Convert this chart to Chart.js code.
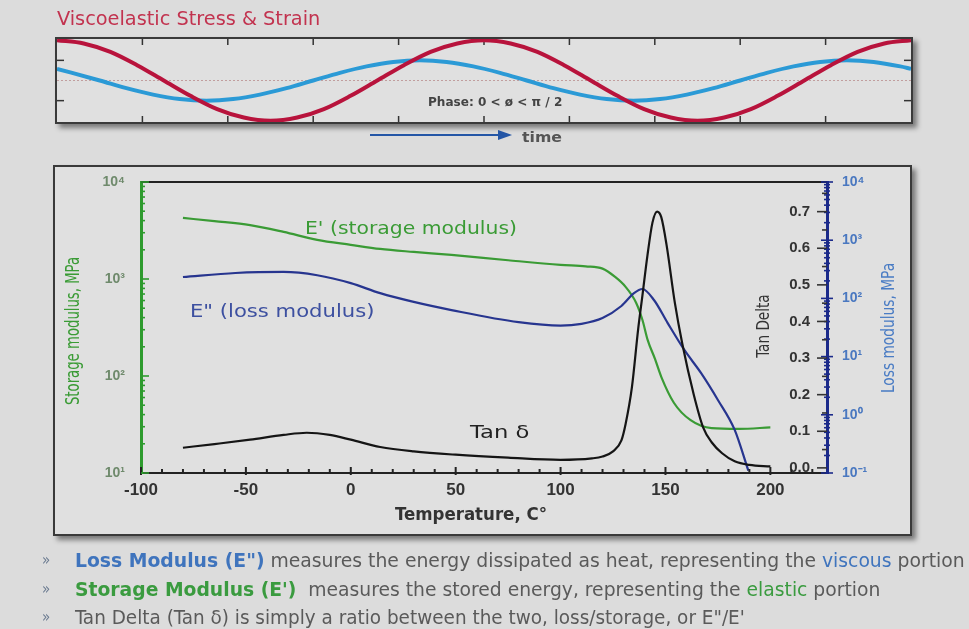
<!DOCTYPE html>
<html>
<head>
<meta charset="utf-8">
<script src="https://cdn.jsdelivr.net/npm/chart.js@4.4.1/dist/chart.umd.min.js"></script>
<style>
html, body { margin: 0; padding: 0; }
body {
  width: 969px; height: 629px; position: relative; overflow: hidden;
  background: #dcdcdc;
  font-family: 'Liberation Sans Narrow', 'DejaVu Sans Condensed', 'Liberation Sans', sans-serif;
}
.box {
  position: absolute; box-sizing: border-box;
  border: 2px solid #3a3a3a; background: #e0e0e0;
  box-shadow: 4px 4px 5px rgba(0, 0, 0, 0.45);
}
canvas { position: absolute; left: 0; top: 0; }
.t { position: absolute; white-space: nowrap; line-height: 1; }
</style>
</head>
<body>
<div class="box" style="left:55px;top:37px;width:858px;height:87px"></div>
<div class="box" style="left:53px;top:165px;width:859px;height:371px"></div>
<canvas id="wave" width="969" height="629"></canvas>
<canvas id="dma" width="969" height="629"></canvas>

<svg style="position:absolute;left:0;top:0" width="969" height="629">
  <line x1="370" y1="135" x2="500" y2="135" stroke="#2456a6" stroke-width="2"/>
  <polygon points="498,130 512,135 498,140" fill="#2456a6"/>
</svg>

<div class="t" data-w="263" style="left:57px;top:18px;font-size:20px;color:#c2334f">Viscoelastic Stress &amp; Strain</div>
<div class="t" data-w="134" style="left:428px;top:101px;font-size:13px;font-weight:bold;color:#444">Phase: 0 &lt; ø &lt; π / 2</div>
<div class="t" data-w="40" style="left:522px;top:137px;font-size:14px;font-weight:bold;color:#555">time</div>

<div class="t" data-w="212" style="left:305px;top:228px;font-size:17px;font-family:'DejaVu Sans',sans-serif;color:#3a9b35">E' (storage modulus)</div>
<div class="t" data-w="184" style="left:190px;top:311px;font-size:17px;font-family:'DejaVu Sans',sans-serif;color:#3d50a0">E" (loss modulus)</div>
<div class="t" data-w="60" style="left:470px;top:432px;font-size:17px;font-family:'DejaVu Sans',sans-serif;color:#222">Tan δ</div>

<div class="t" data-w="148" data-r="1" style="left:72px;top:331px;font-size:19px;color:#3a9b35">Storage modulus, MPa</div>
<div class="t" data-w="63" data-r="1" style="left:763px;top:326px;font-size:18px;color:#333">Tan Delta</div>
<div class="t" data-w="130" data-r="1" style="left:888px;top:328px;font-size:18px;color:#4a7cc4">Loss modulus, MPa</div>
<div class="t" data-w="152" style="left:395px;top:514px;font-size:18px;font-weight:bold;color:#333">Temperature, C°</div>

<div class="t" data-w="8" style="left:42px;top:560px;font-size:15px;color:#6a7a90">»</div>
<div class="t" data-w="8" style="left:42px;top:589px;font-size:15px;color:#6a7a90">»</div>
<div class="t" data-w="8" style="left:42px;top:617px;font-size:15px;color:#6a7a90">»</div>
<div class="t" data-w="890" style="left:75px;top:560px;font-size:19px;color:#5a5a5a"><b style="color:#3f74bd">Loss Modulus (E")</b> measures the energy dissipated as heat, representing the <span style="color:#3f74bd">viscous</span> portion</div>
<div class="t" data-w="805" style="left:75px;top:589px;font-size:19px;color:#5a5a5a"><b style="color:#3a9b3f">Storage Modulus (E')</b>&nbsp; measures the stored energy, representing the <span style="color:#3a9b3f">elastic</span> portion</div>
<div class="t" data-w="670" style="left:75px;top:617px;font-size:19px;color:#5a5a5a">Tan Delta (Tan δ) is simply a ratio between the two, loss/storage, or E"/E'</div>

<script>
// ---- top panel: stress / strain vs time ----
const stressTime = [0, 0.3125, 0.625, 0.9375, 1.25, 1.5625, 1.875, 2.1875, 2.5, 2.8125, 3.125, 3.4375, 3.75, 4.0625, 4.375, 4.6875,
  5, 5.3125, 5.625, 5.9375, 6.25, 6.5625, 6.875, 7.1875, 7.5, 7.8125, 8.125, 8.4375, 8.75, 9.0625, 9.375, 9.6875, 10];
const stressVals = [1, 0.92, 0.71, 0.38, 0, -0.38, -0.71, -0.92, -1, -0.92, -0.71, -0.38, 0, 0.38, 0.71, 0.92,
  1, 0.92, 0.71, 0.38, 0, -0.38, -0.71, -0.92, -1, -0.92, -0.71, -0.38, 0, 0.38, 0.71, 0.92, 1];
const strainTime = [0, 0.5, 0.8125, 1.125, 1.4375, 1.75, 2.0625, 2.375, 2.6875, 3, 3.3125, 3.625, 3.9375, 4.25, 4.5625, 4.875, 5.1875,
  5.5, 5.8125, 6.125, 6.4375, 6.75, 7.0625, 7.375, 7.6875, 8, 8.3125, 8.625, 8.9375, 9.25, 9.5625, 9.875, 10];
const strainVals = [0.29, 0, -0.19, -0.35, -0.46, -0.5, -0.46, -0.35, -0.19, 0, 0.19, 0.35, 0.46, 0.5, 0.46, 0.35, 0.19,
  0, -0.19, -0.35, -0.46, -0.5, -0.46, -0.35, -0.19, 0, 0.19, 0.35, 0.46, 0.5, 0.46, 0.35, 0.29];
const waveTicksX = [1, 2, 3, 4, 5, 6, 7, 8, 9];
const waveTicksY = [-0.5, 0.5];

// ---- main panel: DMA temperature sweep ----
const storageTemp = [-80, -65, -48, -32, -16, 0, 14, 30, 48, 75, 100, 112, 120, 126, 131, 136, 139, 141.5, 145, 148, 154, 162, 172, 185, 200];
const storageMod = [4260, 3950, 3600, 3060, 2530, 2250, 2040, 1900, 1770, 1560, 1400, 1350, 1280, 1050, 830, 570, 380, 236, 150, 98, 53, 35, 29, 28.5, 29.5];

const lossTemp = [-80, -55, -32, -16, 0, 14, 30, 48, 80, 100, 110, 120, 129, 135, 139, 144.6, 151, 159, 167, 175, 183, 189.5];
const lossMod = [233, 273, 285, 250, 183, 123, 87, 63, 39, 34, 36.5, 46, 74, 123, 145, 93, 38, 13, 5.2, 1.8, 0.55, 0.11];

const tanTemp = [-80, -65, -48, -32, -21, -10, 0, 14, 30, 50, 75, 100, 115, 120, 125, 129, 131, 134, 137, 139, 141.4, 143.8, 146, 148, 150.5, 154.5, 158, 163.5, 168, 172, 177, 183, 190, 200];
const tanDelta = [0.055, 0.065, 0.077, 0.09, 0.096, 0.09, 0.077, 0.057, 0.045, 0.036, 0.028, 0.022, 0.026, 0.031, 0.045, 0.075, 0.12, 0.22, 0.38, 0.47, 0.58, 0.67, 0.70, 0.685, 0.61, 0.45, 0.34, 0.2, 0.11, 0.07, 0.04, 0.018, 0.008, 0.004];

const tempTicks = [-100, -50, 0, 50, 100, 150, 200];
const storageTicks = [10, 100, 1000, 10000];
const storageTickLabels = ['10¹', '10²', '10³', '10⁴'];
const lossTicks = [0.1, 1, 10, 100, 1000, 10000];
const lossTickLabels = ['10⁻¹', '10⁰', '10¹', '10²', '10³', '10⁴'];
const tanTicks = [0, 0.1, 0.2, 0.3, 0.4, 0.5, 0.6, 0.7];

Chart.defaults.font.family = "'Liberation Sans', Arial, sans-serif";

function pts(xs, ys) {
  return xs.map((x, i) => ({ x: x, y: ys[i] }));
}

function seg(ctx, x1, y1, x2, y2) {
  ctx.beginPath();
  ctx.moveTo(x1, y1);
  ctx.lineTo(x2, y2);
  ctx.stroke();
}

const waveFrame = {
  id: 'waveFrame',
  beforeDatasetsDraw(chart) {
    const { ctx, chartArea: a, scales } = chart;
    ctx.save();
    ctx.strokeStyle = 'rgba(180,130,130,0.7)';
    ctx.lineWidth = 1;
    ctx.setLineDash([2, 2]);
    const y0 = scales.y.getPixelForValue(0);
    seg(ctx, a.left, y0, a.right, y0);
    ctx.setLineDash([]);
    ctx.strokeStyle = '#333';
    ctx.lineWidth = 1.5;
    waveTicksX.forEach(v => {
      const px = scales.x.getPixelForValue(v);
      seg(ctx, px, a.top, px, a.top + 6);
      seg(ctx, px, a.bottom, px, a.bottom - 6);
    });
    waveTicksY.forEach(v => {
      const py = scales.y.getPixelForValue(v);
      seg(ctx, a.left, py, a.left + 7, py);
      seg(ctx, a.right, py, a.right - 7, py);
    });
    ctx.restore();
  }
};

new Chart(document.getElementById('wave'), {
  type: 'line',
  data: {
    datasets: [
      { data: pts(stressTime, stressVals), borderColor: '#b8133c', borderWidth: 4, pointRadius: 0, cubicInterpolationMode: 'monotone' },
      { data: pts(strainTime, strainVals), borderColor: '#2b9ad6', borderWidth: 4, pointRadius: 0, cubicInterpolationMode: 'monotone' }
    ]
  },
  options: {
    responsive: false,
    animation: false,
    devicePixelRatio: 1,
    layout: { padding: { left: 57, right: 58, top: 39, bottom: 507 } },
    scales: {
      x: { type: 'linear', min: 0, max: 10, display: false },
      y: { type: 'linear', min: -1.03, max: 1.03, display: false }
    },
    plugins: { legend: { display: false }, tooltip: { enabled: false } }
  },
  plugins: [waveFrame]
});

// tick marks drawn inwards on every axis
const axisMarks = {
  id: 'axisMarks',
  afterDraw(chart) {
    const { ctx, chartArea: a, scales: s } = chart;
    ctx.save();
    ctx.strokeStyle = '#222';
    ctx.lineWidth = 2;
    seg(ctx, a.left, a.top, a.right, a.top);

    // temperature axis: major every 50, minor every 10
    for (let i = 0; i < tempTicks.length; i++) {
      const px = s.x.getPixelForValue(tempTicks[i]);
      seg(ctx, px, a.bottom - 6, px, a.bottom + 2);
      for (let k = 1; k < 5; k++) {
        const v = tempTicks[i] + k * 10;
        if (v > 222) break;
        const mx = s.x.getPixelForValue(v);
        seg(ctx, mx, a.bottom - 4, mx, a.bottom);
      }
    }

    // storage axis (left, green)
    ctx.strokeStyle = '#2e9b2e';
    ctx.lineWidth = 1.6;
    storageTicks.forEach((d, i) => {
      const py = s.yS.getPixelForValue(d);
      seg(ctx, a.left, py, a.left + 8, py);
      if (i < storageTicks.length - 1) {
        for (let k = 2; k < 10; k++) {
          const my = s.yS.getPixelForValue(k * d);
          seg(ctx, a.left, my, a.left + 4, my);
        }
      }
    });

    // loss axis (right, navy)
    ctx.strokeStyle = '#1b2a8a';
    lossTicks.forEach((d, i) => {
      const py = s.yL.getPixelForValue(d);
      seg(ctx, a.right - 6, py, a.right + 6, py);
      if (i < lossTicks.length - 1) {
        for (let k = 2; k < 10; k++) {
          const my = s.yL.getPixelForValue(k * d);
          seg(ctx, a.right - 3, my, a.right + 3, my);
        }
      }
    });

    // tan delta ticks, inside
    ctx.strokeStyle = '#333';
    ctx.lineWidth = 1.6;
    tanTicks.forEach(v => {
      const py = s.yT.getPixelForValue(v);
      seg(ctx, a.right - 10, py, a.right, py);
      const my = s.yT.getPixelForValue(v + 0.05);
      seg(ctx, a.right - 5, my, a.right, my);
    });
    ctx.restore();
  }
};

new Chart(document.getElementById('dma'), {
  type: 'line',
  data: {
    datasets: [
      { label: 'Tan delta', data: pts(tanTemp, tanDelta), yAxisID: 'yT', borderColor: '#151515', borderWidth: 2.2, pointRadius: 0, cubicInterpolationMode: 'monotone' },
      { label: "E''", data: pts(lossTemp, lossMod), yAxisID: 'yL', borderColor: '#27358f', borderWidth: 2.2, pointRadius: 0, cubicInterpolationMode: 'monotone' },
      { label: "E'", data: pts(storageTemp, storageMod), yAxisID: 'yS', borderColor: '#3a9b35', borderWidth: 2.2, pointRadius: 0, cubicInterpolationMode: 'monotone' }
    ]
  },
  options: {
    responsive: false,
    animation: false,
    devicePixelRatio: 1,
    layout: { padding: { left: 60, right: 82, top: 182, bottom: 116 } },
    scales: {
      x: {
        type: 'linear', position: 'bottom', min: -100, max: 227,
        afterBuildTicks: sc => { sc.ticks = tempTicks.map(v => ({ value: v })); },
        afterFit: sc => { sc.height = 40; },
        ticks: { color: '#333', font: { size: 17, weight: 'bold' }, padding: 7 },
        grid: { display: false, drawTicks: false },
        border: { color: '#222', width: 2 }
      },
      yS: {
        type: 'logarithmic', position: 'left', min: 10, max: 10000,
        afterBuildTicks: sc => { sc.ticks = storageTicks.map(v => ({ value: v })); },
        afterFit: sc => { sc.width = 81; },
        ticks: { color: '#6f8a6c', font: { size: 14, weight: 'bold' }, padding: 16,
          callback: (v, i) => storageTickLabels[i] },
        grid: { display: false, drawTicks: false },
        border: { color: '#2e9b2e', width: 3 }
      },
      yT: {
        type: 'linear', position: 'right', min: -0.014, max: 0.781,
        afterBuildTicks: sc => { sc.ticks = tanTicks.map(v => ({ value: v })); },
        afterFit: sc => { sc.width = 0; },
        ticks: { mirror: true, padding: -17, color: '#333', font: { size: 15, weight: 'bold' },
          callback: v => v.toFixed(1) },
        grid: { display: false, drawTicks: false },
        border: { display: false }
      },
      yL: {
        type: 'logarithmic', position: 'right', min: 0.1, max: 10000,
        afterBuildTicks: sc => { sc.ticks = lossTicks.map(v => ({ value: v })); },
        afterFit: sc => { sc.width = 60; },
        ticks: { color: '#4a78c0', font: { size: 14, weight: 'bold' }, padding: 15,
          callback: (v, i) => lossTickLabels[i] },
        grid: { display: false, drawTicks: false },
        border: { color: '#1b2a8a', width: 3 }
      }
    },
    plugins: { legend: { display: false }, tooltip: { enabled: false } }
  },
  plugins: [axisMarks]
});

// squeeze each free text to the width it has in the picture
function fitTexts() {
  document.querySelectorAll('.t').forEach(el => {
    el.style.transform = 'none';
    const s = (+el.dataset.w) / el.offsetWidth;
    if (el.dataset.r) {
      el.style.transformOrigin = '50% 50%';
      el.style.transform = 'translate(-50%,-50%) rotate(-90deg) scaleX(' + s + ')';
    } else {
      el.style.transformOrigin = '0 50%';
      el.style.transform = 'translateY(-50%) scaleX(' + s + ')';
    }
  });
}
fitTexts();
if (document.fonts) document.fonts.ready.then(fitTexts);
</script>
</body>
</html>
